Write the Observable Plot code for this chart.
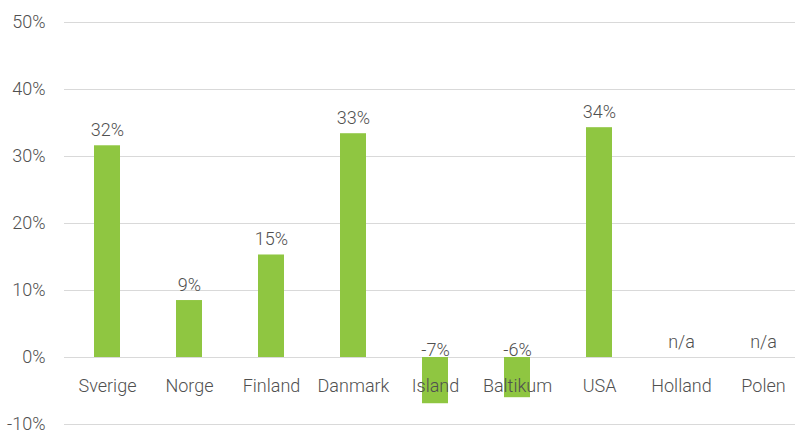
<!DOCTYPE html>
<html>
<head>
<meta charset="utf-8">
<script src="https://cdn.jsdelivr.net/npm/d3@7"></script>
<script src="https://cdn.jsdelivr.net/npm/@observablehq/plot@0.6"></script>
<style>
  html, body { margin: 0; padding: 0; background: #fff; }
  #chart svg { display: block; }
</style>
</head>
<body>
<div id="chart"></div>
<script>
const categories = ["Sverige", "Norge", "Finland", "Danmark", "Island", "Baltikum", "USA", "Holland", "Polen"];
const values = [31.6, 8.5, 15.3, 33.4, -6.9, -6.0, 34.3, null, null];
const valueLabels = ["32%", "9%", "15%", "33%", "-7%", "-6%", "34%", "n/a", "n/a"];
const yTicks = [-10, 0, 10, 20, 30, 40, 50];

const data = categories.map((c, i) => ({category: c, value: values[i], label: valueLabels[i]}));
const aboveLabels = data.filter(d => d.value == null || d.value >= 0);
const negLabels = data.filter(d => d.value != null && d.value < 0);

const textColor = "#505050";
const font = "Roboto, sans-serif";

const chart = Plot.plot({
  width: 795,
  height: 430,
  marginLeft: 64,
  marginRight: 0,
  marginTop: 22,
  marginBottom: 6,
  style: {fontFamily: font, fontSize: "18px", color: textColor, background: "#fff", fontWeight: 300},
  x: {domain: categories, range: [64.85, 805.6], paddingInner: 0.684, paddingOuter: 0.342, axis: null},
  y: {domain: [-10, 50], ticks: yTicks, label: null, tickFormat: d => `${d}%`, grid: false},
  marks: [
    Plot.gridY(yTicks, {stroke: "#d9d9d9", strokeOpacity: 1, strokeWidth: 1}),
    Plot.axisY(yTicks, {tickSize: 0, tickPadding: 19, fontSize: 18, fill: textColor, label: null, tickFormat: d => `${d}%`}),
    Plot.barY(data.filter(d => d.value != null), {x: "category", y: "value", fill: "#8fc641"}),
    Plot.text(aboveLabels, {x: "category", y: d => d.value == null ? 0 : d.value, text: "label", lineAnchor: "bottom", dy: -10, fontSize: 18, fill: textColor}),
    Plot.text(negLabels, {x: "category", y: 0, text: "label", lineAnchor: "bottom", dy: -2, fontSize: 18, fill: textColor}),
    Plot.text(categories, {x: d => d, y: () => 0, text: d => d, lineAnchor: "bottom", dy: 34, fontSize: 18, fill: textColor})
  ]
});
document.getElementById("chart").appendChild(chart);
</script>
</body>
</html>
